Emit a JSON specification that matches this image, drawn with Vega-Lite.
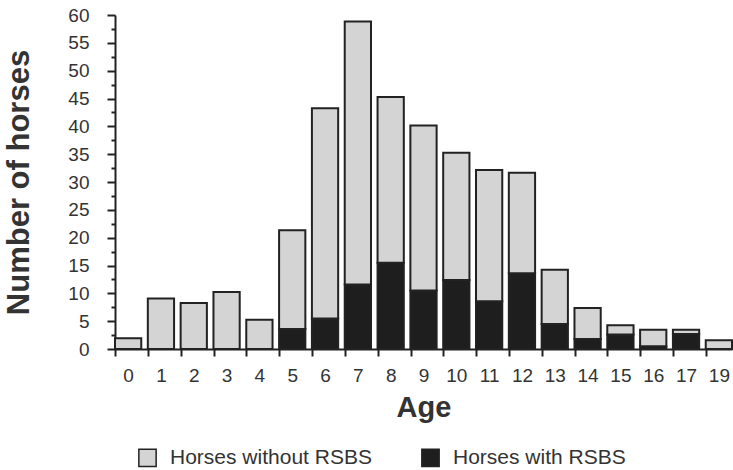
{
  "$schema": "https://vega.github.io/schema/vega-lite/v6.json",
  "autosize": "none",
  "padding": {"left": 115, "top": 15, "right": 1, "bottom": 121},
  "width": 617,
  "height": 334,
  "background": "white",
  "config": {
    "font": "Liberation Sans",
    "view": {"stroke": null},
    "axis": {"labelColor": "#333", "titleColor": "#333", "domainColor": "#222", "tickColor": "#222", "domainWidth": 2, "tickWidth": 2, "grid": false}
  },
  "data": {
    "values": [
      {"age": 0, "group": "Horses without RSBS", "count": 1.95},
      {"age": 1, "group": "Horses without RSBS", "count": 9.05},
      {"age": 2, "group": "Horses without RSBS", "count": 8.25},
      {"age": 3, "group": "Horses without RSBS", "count": 10.25},
      {"age": 4, "group": "Horses without RSBS", "count": 5.25},
      {"age": 5, "group": "Horses with RSBS", "count": 3.6},
      {"age": 5, "group": "Horses without RSBS", "count": 17.75},
      {"age": 6, "group": "Horses with RSBS", "count": 5.5},
      {"age": 6, "group": "Horses without RSBS", "count": 37.75},
      {"age": 7, "group": "Horses with RSBS", "count": 11.6},
      {"age": 7, "group": "Horses without RSBS", "count": 47.25},
      {"age": 8, "group": "Horses with RSBS", "count": 15.5},
      {"age": 8, "group": "Horses without RSBS", "count": 29.75},
      {"age": 9, "group": "Horses with RSBS", "count": 10.5},
      {"age": 9, "group": "Horses without RSBS", "count": 29.65},
      {"age": 10, "group": "Horses with RSBS", "count": 12.4},
      {"age": 10, "group": "Horses without RSBS", "count": 22.85},
      {"age": 11, "group": "Horses with RSBS", "count": 8.6},
      {"age": 11, "group": "Horses without RSBS", "count": 23.55},
      {"age": 12, "group": "Horses with RSBS", "count": 13.6},
      {"age": 12, "group": "Horses without RSBS", "count": 18.05},
      {"age": 13, "group": "Horses with RSBS", "count": 4.5},
      {"age": 13, "group": "Horses without RSBS", "count": 9.75},
      {"age": 14, "group": "Horses with RSBS", "count": 1.8},
      {"age": 14, "group": "Horses without RSBS", "count": 5.55},
      {"age": 15, "group": "Horses with RSBS", "count": 2.6},
      {"age": 15, "group": "Horses without RSBS", "count": 1.65},
      {"age": 16, "group": "Horses with RSBS", "count": 0.5},
      {"age": 16, "group": "Horses without RSBS", "count": 2.95},
      {"age": 17, "group": "Horses with RSBS", "count": 2.7},
      {"age": 17, "group": "Horses without RSBS", "count": 0.75},
      {"age": 19, "group": "Horses without RSBS", "count": 1.55}
    ]
  },
  "mark": {"type": "bar", "stroke": "#222", "strokeWidth": 2},
  "encoding": {
    "x": {
      "field": "age", "type": "ordinal",
      "scale": {"paddingInner": 0.2, "paddingOuter": 0},
      "axis": {
        "title": "Age", "labelAngle": 0, "labelFontSize": 19, "labelPadding": 10,
        "tickSize": 7, "tickOffset": -13, "labelOffset": 13,
        "titleFontSize": 29, "titleFontWeight": "bold", "titlePadding": 8
      }
    },
    "y": {
      "field": "count", "type": "quantitative", "stack": "zero",
      "scale": {"domain": [0, 60], "nice": false},
      "axis": {
        "title": "Number of horses",
        "values": [0, 2.5, 5, 7.5, 10, 12.5, 15, 17.5, 20, 22.5, 25, 27.5, 30, 32.5, 35, 37.5, 40, 42.5, 45, 47.5, 50, 52.5, 55, 57.5, 60],
        "labelExpr": "datum.value % 5 === 0 ? datum.label : ''",
        "labelOverlap": false,
        "tickSize": {"condition": {"test": "datum.value % 5 === 0", "value": 8}, "value": 4},
        "labelFontSize": 19, "labelPadding": 18,
        "titleFontSize": 31, "titleFontWeight": "bold", "titlePadding": 32
      }
    },
    "color": {
      "field": "group", "type": "nominal",
      "scale": {"domain": ["Horses without RSBS", "Horses with RSBS"], "range": ["#d4d4d4", "#1e1e1e"]},
      "legend": {
        "title": null, "orient": "none", "legendX": 22, "legendY": 432,
        "direction": "horizontal", "symbolType": "square", "symbolSize": 300,
        "symbolStrokeColor": "#222", "symbolStrokeWidth": 1.5,
        "labelFontSize": 21, "labelColor": "#333", "labelOffset": 12, "labelLimit": 0, "columnPadding": 46
      }
    },
    "order": {"field": "group", "sort": "ascending"}
  }
}
